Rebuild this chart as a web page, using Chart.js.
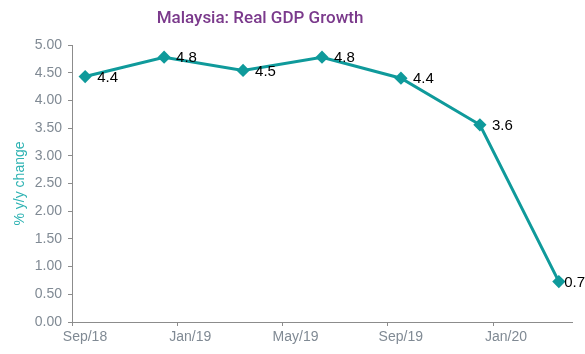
<!DOCTYPE html>
<html>
<head>
<meta charset="utf-8">
<script src="https://cdn.jsdelivr.net/npm/chart.js@4.4.0/dist/chart.umd.min.js"></script>
<style>
  html, body { margin: 0; padding: 0; background: #fff; }
  #wrap { width: 585px; height: 354px; }
</style>
</head>
<body>
<div id="wrap"><canvas id="gdp"></canvas></div>
<script>
// quarter-end months and real GDP growth (% y/y)
const quarters = ['2018-09', '2018-12', '2019-03', '2019-06', '2019-09', '2019-12', '2020-03'];
const growth = [4.43, 4.78, 4.54, 4.78, 4.40, 3.56, 0.73];
const tickLabels = ['Sep/18', 'Jan/19', 'May/19', 'Sep/19', 'Jan/20'];
const yTicks = [0, 0.5, 1, 1.5, 2, 2.5, 3, 3.5, 4, 4.5, 5];

const startYear = 2018, startMonth = 9;
function monthIndex(s) {
  const [y, m] = s.split('-').map(Number);
  return (y - startYear) * 12 + (m - startMonth);
}
// points sit in the middle of their month, like a date axis
const points = quarters.map((q, i) => ({ x: monthIndex(q) + 0.5, y: growth[i] }));
const tickMonths = tickLabels.map((_, i) => i * 4);

const teal = '#0f9a9b';
const axisGray = '#8c8c8c';
const tickColor = '#808a94';

const overlay = {
  id: 'overlay',
  afterDatasetsDraw(chart) {
    const ctx = chart.ctx;
    const meta = chart.getDatasetMeta(0);
    ctx.save();
    ctx.font = '15px "Liberation Sans", Arial, sans-serif';
    ctx.fillStyle = '#000';
    ctx.textBaseline = 'middle';
    ctx.textAlign = 'left';
    meta.data.forEach((pt, i) => {
      const txt = growth[i].toFixed(1);
      const w = ctx.measureText(txt).width;
      let x = pt.x + 12;
      if (x + w > chart.width) x = chart.width - w;
      ctx.fillText(txt, x, pt.y + 1);
    });
    // title
    ctx.font = '500 17px Roboto, "Noto Sans", sans-serif';
    ctx.fillStyle = '#7b3a8c';
    ctx.textAlign = 'center';
    ctx.textBaseline = 'alphabetic';
    ctx.fillText('Malaysia: Real GDP Growth', 260, 23);
    ctx.restore();
  }
};

new Chart(document.getElementById('gdp'), {
  type: 'line',
  data: {
    datasets: [{
      data: points,
      borderColor: teal,
      backgroundColor: teal,
      borderWidth: 3,
      pointStyle: 'rectRot',
      pointRadius: 4.5,
      pointHoverRadius: 4.5,
      tension: 0
    }]
  },
  options: {
    responsive: true,
    maintainAspectRatio: false,
    animation: false,
    layout: { padding: { top: 45, right: 13, left: 0, bottom: 0 } },
    plugins: { legend: { display: false }, tooltip: { enabled: false }, title: { display: false } },
    scales: {
      x: {
        type: 'linear',
        min: 0,
        max: 19,
        afterBuildTicks: s => { s.ticks = tickMonths.map(v => ({ value: v })); },
        afterFit: s => { s.height = 32; },
        grid: { display: true, drawOnChartArea: false, color: axisGray, tickLength: 4 },
        border: { color: axisGray, width: 1 },
        ticks: {
          color: tickColor,
          font: { family: '"Liberation Sans", Arial, sans-serif', size: 14 },
          padding: 3,
          labelOffset: 13,
          maxRotation: 0,
          callback: v => tickLabels[tickMonths.indexOf(v)] || ''
        }
      },
      y: {
        min: 0,
        max: 5,
        afterBuildTicks: s => { s.ticks = yTicks.map(v => ({ value: v })); },
        afterFit: s => { s.width = 72; },
        grid: { display: true, drawOnChartArea: false, color: axisGray, tickLength: 4 },
        border: { color: axisGray, width: 1 },
        ticks: {
          color: tickColor,
          font: { family: '"Liberation Sans", Arial, sans-serif', size: 14 },
          padding: 6,
          callback: v => Number(v).toFixed(2)
        },
        title: {
          display: true,
          text: '% y/y change',
          color: '#2fb3b3',
          font: { family: '"Liberation Sans", Arial, sans-serif', size: 14 },
          padding: { top: 12, bottom: 0 }
        }
      }
    }
  },
  plugins: [overlay]
});
</script>
</body>
</html>
